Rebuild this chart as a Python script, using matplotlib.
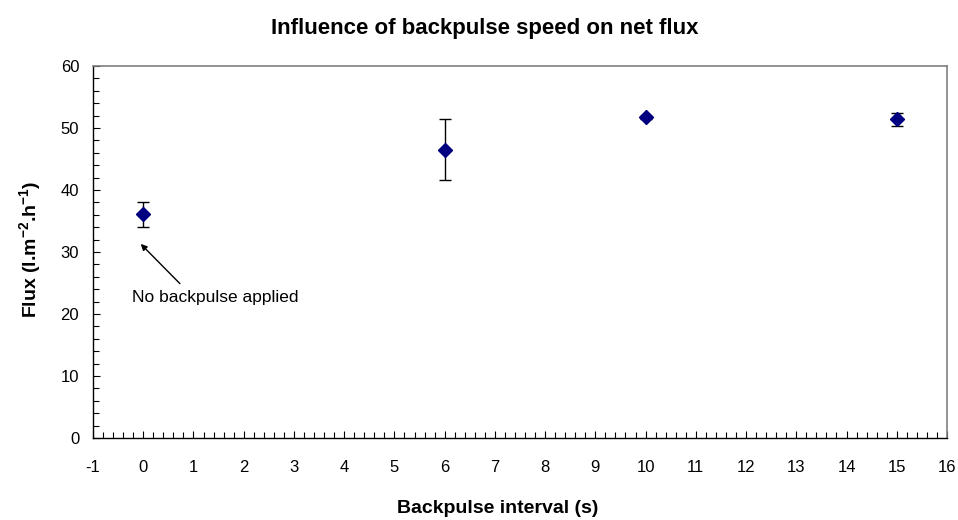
import matplotlib.pyplot as plt
from matplotlib.ticker import MultipleLocator

plt.rcParams['font.family'] = ['Liberation Sans', 'DejaVu Sans']
plt.rcParams['axes.unicode_minus'] = False
plt.rcParams['mathtext.fontset'] = 'custom'
plt.rcParams['mathtext.rm'] = 'Liberation Sans:bold'
plt.rcParams['mathtext.default'] = 'rm'

# Backpulse interval (s) vs net flux (l.m-2.h-1) with standard deviation
interval = [0, 6, 10, 15]
flux = [36.1, 46.5, 51.7, 51.4]
flux_err = [2.0, 4.9, 0.3, 1.0]

fig = plt.figure(figsize=(9.58, 5.2), dpi=100)
ax = fig.add_axes([0.0971, 0.1577, 0.8914, 0.7153])

ax.errorbar(interval, flux, yerr=flux_err, fmt='D', color='#000080',
            markersize=7, markeredgecolor='#000080', ecolor='black',
            elinewidth=1, capsize=4, capthick=1)

ax.set_xlim(-1, 16)
ax.set_ylim(0, 60)
ax.xaxis.set_major_locator(MultipleLocator(1))
ax.xaxis.set_minor_locator(MultipleLocator(0.2))
ax.yaxis.set_major_locator(MultipleLocator(10))
ax.yaxis.set_minor_locator(MultipleLocator(2))
ax.tick_params(which='both', direction='in', labelsize=12, width=0.8)
ax.tick_params(which='major', length=5)
ax.tick_params(which='minor', length=4)
ax.tick_params(axis='x', pad=16)
ax.tick_params(axis='y', pad=10)

for side in ['top', 'right']:
    ax.spines[side].set_color('#808080')
    ax.spines[side].set_linewidth(1.2)
for side in ['left', 'bottom']:
    ax.spines[side].set_linewidth(1.0)

# note pointing at the reference point without backpulse
ax.text(1.43, 22.7, 'No backpulse applied', ha='center', va='center',
        fontsize=12.5)
ax.annotate('', xy=(-0.05, 31.3), xytext=(0.73, 24.9),
            arrowprops=dict(arrowstyle='-|>', color='black', lw=1,
                            mutation_scale=9, shrinkA=0, shrinkB=0))

fig.text(0.506, 0.946, 'Influence of backpulse speed on net flux',
         ha='center', va='center', fontsize=16, fontweight='bold')
fig.text(0.519, 0.023, 'Backpulse interval (s)', ha='center',
         va='center', fontsize=14, fontweight='bold')
fig.text(0.031, 0.52, 'Flux (l.m$^{-2}$.h$^{-1}$)', ha='center',
         va='center', rotation=90, fontsize=14, fontweight='bold')

fig.savefig('out.png', dpi=100)
